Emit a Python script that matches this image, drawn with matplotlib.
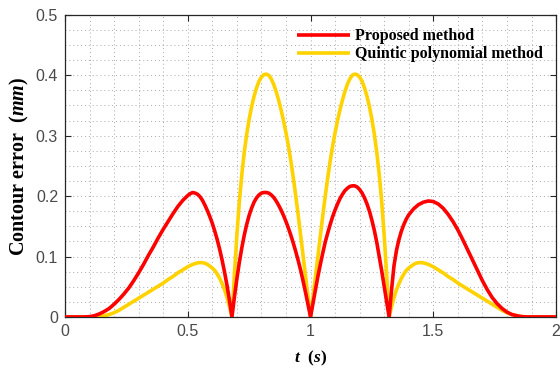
import matplotlib
matplotlib.use("Agg")
import matplotlib.pyplot as plt
from matplotlib.ticker import MultipleLocator

# ---- data ----
t_red = [0.00, 0.08, 0.10, 0.12, 0.14, 0.16, 0.18, 0.20, 0.22, 0.24, 0.26, 0.28, 0.30, 0.32, 0.34, 0.36, 0.38, 0.40,
         0.42, 0.44, 0.46, 0.48, 0.50, 0.51, 0.52, 0.53, 0.54, 0.55, 0.56, 0.57, 0.58, 0.59, 0.60, 0.61, 0.62, 0.63,
         0.64, 0.65, 0.66, 0.67, 0.68,
         0.69, 0.70, 0.71, 0.72, 0.73, 0.74, 0.75, 0.76, 0.77, 0.78, 0.79, 0.80, 0.81, 0.82, 0.83, 0.84, 0.85, 0.86,
         0.87, 0.88, 0.89, 0.90, 0.91, 0.92, 0.93, 0.94, 0.95, 0.96, 0.97, 0.98, 0.99, 1.00,
         1.01, 1.02, 1.03, 1.04, 1.05, 1.06, 1.07, 1.08, 1.09, 1.10, 1.11, 1.12, 1.13, 1.14, 1.15, 1.16, 1.17, 1.18,
         1.19, 1.20, 1.21, 1.22, 1.23, 1.24, 1.25, 1.26, 1.27, 1.28, 1.29, 1.30, 1.31, 1.32,
         1.33, 1.34, 1.35, 1.36, 1.37, 1.38, 1.39, 1.40, 1.42, 1.44, 1.46, 1.48, 1.50, 1.52, 1.54, 1.56, 1.58, 1.60,
         1.62, 1.64, 1.66, 1.68, 1.70, 1.72, 1.74, 1.76, 1.78, 1.80, 1.82, 1.84, 1.86, 1.88, 2.00]
e_red = [0.0, 0.0, 0.0005, 0.002, 0.005, 0.009, 0.014, 0.021, 0.029, 0.038, 0.048, 0.060, 0.073, 0.087, 0.102, 0.116, 0.131, 0.145,
         0.158, 0.171, 0.183, 0.193, 0.201, 0.204, 0.206, 0.205, 0.203, 0.199, 0.193, 0.185, 0.176, 0.166, 0.155, 0.142, 0.128, 0.112,
         0.094, 0.074, 0.052, 0.027, 0.0,
         0.033, 0.063, 0.090, 0.114, 0.135, 0.153, 0.168, 0.180, 0.190, 0.197, 0.202, 0.205, 0.206, 0.206, 0.205, 0.202, 0.198, 0.192,
         0.185, 0.177, 0.168, 0.158, 0.147, 0.135, 0.122, 0.108, 0.093, 0.077, 0.059, 0.040, 0.020, 0.0,
         0.023, 0.045, 0.067, 0.087, 0.106, 0.124, 0.139, 0.153, 0.166, 0.177, 0.187, 0.196, 0.203, 0.209, 0.213, 0.216, 0.217, 0.217,
         0.215, 0.211, 0.205, 0.197, 0.187, 0.175, 0.160, 0.143, 0.123, 0.100, 0.076, 0.051, 0.026, 0.0,
         0.045, 0.085, 0.110, 0.128, 0.142, 0.153, 0.162, 0.169, 0.179, 0.186, 0.190, 0.192, 0.191, 0.187, 0.180, 0.170, 0.158, 0.144,
         0.128, 0.111, 0.094, 0.077, 0.060, 0.045, 0.032, 0.022, 0.014, 0.008, 0.004, 0.002, 0.0005, 0.0, 0.0]

t_yel = [0.00, 0.12, 0.14, 0.16, 0.18, 0.20, 0.22, 0.24, 0.26, 0.28, 0.30, 0.32, 0.34, 0.36, 0.38, 0.40, 0.42, 0.44,
         0.46, 0.48, 0.50, 0.52, 0.54, 0.55, 0.56, 0.57, 0.58, 0.59, 0.60, 0.61, 0.62, 0.63, 0.64, 0.65, 0.66, 0.67, 0.68,
         0.69, 0.70, 0.71, 0.72, 0.73, 0.74, 0.75, 0.76, 0.77, 0.78, 0.79, 0.80, 0.81, 0.82, 0.83, 0.84, 0.85, 0.86,
         0.87, 0.88, 0.89, 0.90, 0.91, 0.92, 0.93, 0.94, 0.95, 0.96, 0.97, 0.98, 0.99, 1.00,
         1.01, 1.02, 1.03, 1.04, 1.05, 1.06, 1.07, 1.08, 1.09, 1.10, 1.11, 1.12, 1.13, 1.14, 1.15, 1.16, 1.17, 1.18,
         1.19, 1.20, 1.21, 1.22, 1.23, 1.24, 1.25, 1.26, 1.27, 1.28, 1.29, 1.30, 1.31, 1.32,
         1.33, 1.34, 1.35, 1.36, 1.37, 1.38, 1.39, 1.40, 1.41, 1.42, 1.43, 1.44, 1.45, 1.46, 1.48, 1.50, 1.52, 1.54,
         1.56, 1.58, 1.60, 1.62, 1.64, 1.66, 1.68, 1.70, 1.72, 1.74, 1.76, 1.78, 1.80, 1.82, 1.84, 1.86, 1.88, 2.00]
e_yel = [0.0, 0.0, 0.0005, 0.002, 0.004, 0.007, 0.011, 0.016, 0.021, 0.026, 0.031, 0.036, 0.041, 0.046, 0.051, 0.056, 0.062, 0.067,
         0.073, 0.078, 0.083, 0.087, 0.0895, 0.090, 0.0898, 0.089, 0.087, 0.084, 0.081, 0.077, 0.071, 0.064, 0.055, 0.045, 0.032, 0.017, 0.0,
         0.070, 0.135, 0.190, 0.235, 0.272, 0.302, 0.327, 0.348, 0.365, 0.379, 0.390, 0.397, 0.401, 0.402, 0.400, 0.394, 0.385, 0.373,
         0.359, 0.343, 0.325, 0.305, 0.283, 0.258, 0.230, 0.200, 0.168, 0.134, 0.100, 0.066, 0.033, 0.0,
         0.033, 0.066, 0.100, 0.134, 0.168, 0.200, 0.230, 0.258, 0.283, 0.305, 0.325, 0.343, 0.359, 0.373, 0.385, 0.394, 0.400, 0.402,
         0.401, 0.397, 0.390, 0.379, 0.365, 0.348, 0.327, 0.302, 0.272, 0.235, 0.190, 0.135, 0.070, 0.0,
         0.017, 0.032, 0.045, 0.055, 0.064, 0.071, 0.077, 0.081, 0.084, 0.087, 0.089, 0.0898, 0.090, 0.0895, 0.087, 0.083, 0.078, 0.073,
         0.067, 0.062, 0.056, 0.051, 0.046, 0.041, 0.036, 0.031, 0.026, 0.021, 0.016, 0.011, 0.007, 0.004, 0.002, 0.0005, 0.0, 0.0]

x_ticks = [0, 0.5, 1, 1.5, 2]
x_tick_labels = ["0", "0.5", "1", "1.5", "2"]
y_ticks = [0, 0.1, 0.2, 0.3, 0.4, 0.5]
y_tick_labels = ["0", "0.1", "0.2", "0.3", "0.4", "0.5"]
series_labels = ["Proposed method", "Quintic polynomial method"]

plt.rcParams["mathtext.fontset"] = "custom"
plt.rcParams["mathtext.rm"] = "Liberation Serif:bold"
plt.rcParams["mathtext.it"] = "Liberation Serif:bold:italic"
plt.rcParams["mathtext.bf"] = "Liberation Serif:bold"

fig = plt.figure(figsize=(5.6, 3.72), dpi=100)
ax = fig.add_axes([0.116, 0.148, 0.877, 0.812])

ax.plot(t_red, e_red, color="#ff0000", lw=2.6, label=series_labels[0], zorder=3,
        solid_joinstyle="round", solid_capstyle="butt")
ax.plot(t_yel, e_yel, color="#ffd200", lw=2.6, label=series_labels[1], zorder=2,
        solid_joinstyle="round", solid_capstyle="butt")

ax.set_xlim(0, 2)
ax.set_ylim(0, 0.5)
ax.set_xticks(x_ticks)
ax.set_xticklabels(x_tick_labels)
ax.set_yticks(y_ticks)
ax.set_yticklabels(y_tick_labels)
ax.xaxis.set_minor_locator(MultipleLocator(0.1))
ax.yaxis.set_minor_locator(MultipleLocator(0.025))
ax.grid(which="both", linestyle=(0, (1, 3)), color="#a8a8a8", linewidth=0.7)
ax.set_axisbelow(True)

ax.tick_params(which="major", direction="in", length=4, width=0.8, top=True, right=True,
               labelsize=11.5, colors="#262626", pad=5)
ax.tick_params(which="minor", length=0, top=True, right=True)
for lab in ax.get_xticklabels() + ax.get_yticklabels():
    lab.set_family("Liberation Sans")
    lab.set_color("#4a4a4a")
for s in ax.spines.values():
    s.set_color("#262626")
    s.set_linewidth(0.9)

ax.set_xlabel(r"$t\ \ (s)$", fontsize=12.5, family="Liberation Serif", fontweight="bold", labelpad=7)
ax.set_ylabel(r"Contour error  $(\mathit{mm})$", fontsize=14.5, family="Liberation Serif",
              fontweight="bold", labelpad=3)

leg = ax.legend(loc="upper right", frameon=False, handlelength=3.3, handletextpad=0.3,
                labelspacing=0.12, borderaxespad=0.45,
                prop={"family": "Liberation Serif", "weight": "bold", "size": 11.5})

fig.savefig("out.png", dpi=100)
